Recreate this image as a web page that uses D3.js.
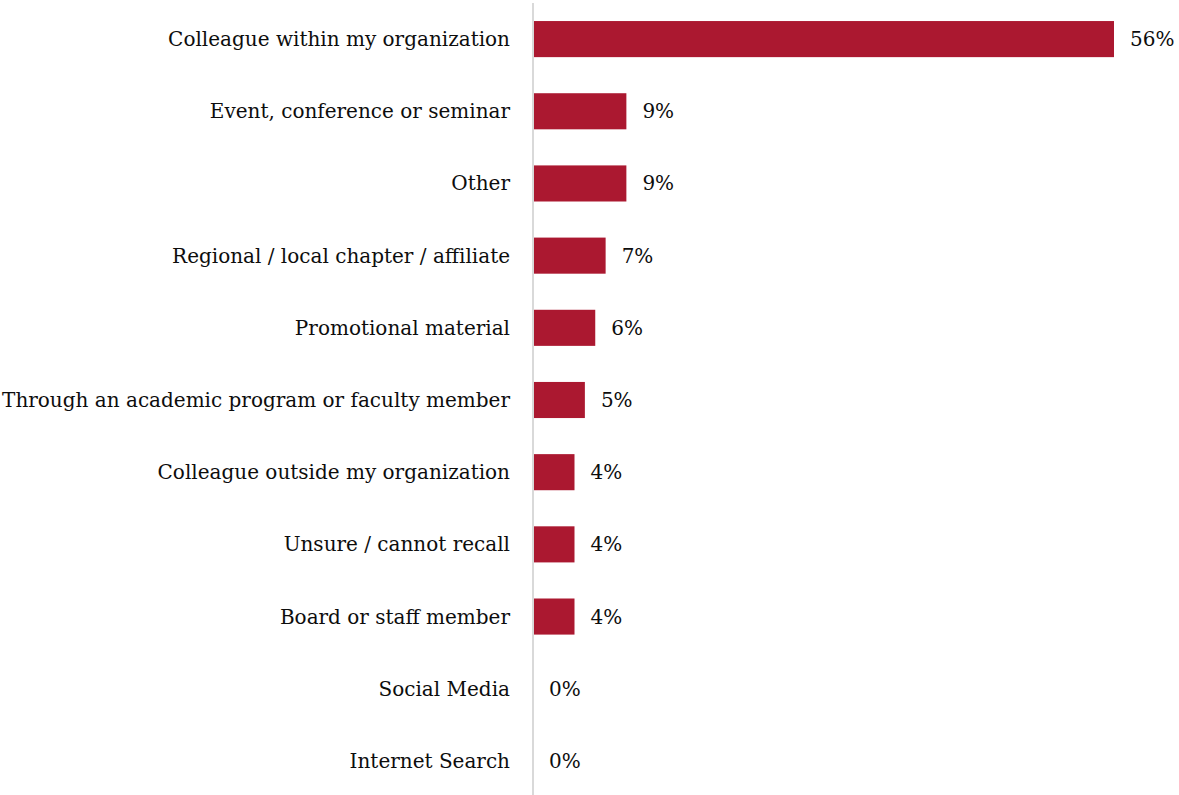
<!DOCTYPE html>
<html>
<head>
<meta charset="utf-8">
<script src="https://cdn.jsdelivr.net/npm/d3@7"></script>
<style>
  html, body { margin: 0; padding: 0; background: #ffffff; }
  svg { display: block; }
  text { font-family: "DejaVu Serif", serif; fill: #0d0d0d; }
</style>
</head>
<body>
<svg id="chart" width="1179" height="795"></svg>
<script>
// How respondents first heard about the organization (% of respondents)
const categories = [
  "Colleague within my organization",
  "Event, conference or seminar",
  "Other",
  "Regional / local chapter / affiliate",
  "Promotional material",
  "Through an academic program or faculty member",
  "Colleague outside my organization",
  "Unsure / cannot recall",
  "Board or staff member",
  "Social Media",
  "Internet Search"
];
const values = [56, 9, 9, 7, 6, 5, 4, 4, 4, 0, 0];

const svg = d3.select("#chart");
const W = 1179, H = 795;
const axisX = 533;

const x = d3.scaleLinear().domain([0, d3.max(values)]).range([axisX, 1114]);
const y = d3.scaleBand().domain(categories).range([3, 797])
  .paddingInner(0.5).paddingOuter(0.25);

const rows = categories.map((c, i) => ({ c, v: values[i] }));

// bars
svg.append("g").selectAll("rect").data(rows).join("rect")
  .attr("x", x(0))
  .attr("y", d => y(d.c))
  .attr("width", d => x(d.v) - x(0))
  .attr("height", y.bandwidth())
  .attr("fill", "#ab1830");

// category axis line
svg.append("line")
  .attr("x1", axisX).attr("x2", axisX)
  .attr("y1", 3).attr("y2", H)
  .attr("stroke", "#d9d9d9").attr("stroke-width", 2);

// category labels
svg.append("g").selectAll("text").data(rows).join("text")
  .attr("x", 510)
  .attr("y", d => y(d.c) + y.bandwidth() / 2)
  .attr("text-anchor", "end")
  .attr("dominant-baseline", "central")
  .style("font-size", "20px")
  .text(d => d.c);

// value labels
svg.append("g").selectAll("text").data(rows).join("text")
  .attr("x", d => x(d.v) + 16)
  .attr("y", d => y(d.c) + y.bandwidth() / 2)
  .attr("dominant-baseline", "central")
  .style("font-size", "20px")
  .text(d => d.v + "%");
</script>
</body>
</html>
